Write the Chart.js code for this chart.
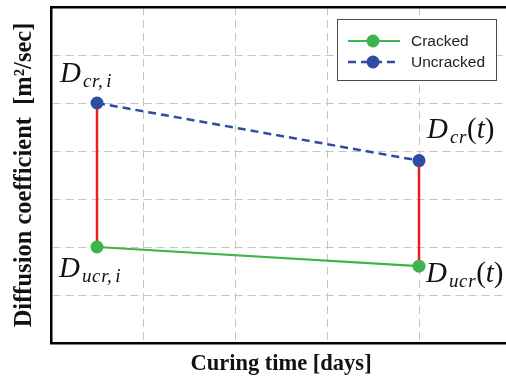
<!DOCTYPE html>
<html>
<head>
<meta charset="utf-8">
<script src="https://cdn.jsdelivr.net/npm/chart.js@4.4.1/dist/chart.umd.min.js"></script>
<style>
  html, body { margin: 0; padding: 0; background: #fff; overflow: hidden; }
  canvas { display: block; }
</style>
</head>
<body>
<canvas id="chart" width="520" height="381"></canvas>
<script>
// two measurement times and the diffusion coefficient at each of them
var curingTime = [0.5, 4]
var crackedValues = [2, 1.6]
var uncrackedValues = [5, 3.8]
var seriesNames = ["Cracked", "Uncracked"]

// symbol, subscript, argument for each point
var crackedLabels = [["D", "ucr,i", ""], ["D", "ucr", "t"]]
var uncrackedLabels = [["D", "cr,i", ""], ["D", "cr", "t"]]

var xRange = [0, 5]
var yRange = [0, 7]

var green = "#3eb54a"
var blue = "#2f4c9f"
var red = "#e8211d"
var serif = "'Liberation Serif', 'Times New Roman', serif"

function points(xs, ys) {
  return xs.map(function(x, i) { return { x: x, y: ys[i] } })
}

// where each math label sits relative to its point (dx, baseline dy)
var labelOffsets = {
  Cracked: [[-38, 30], [7, 16]],
  Uncracked: [[-37, -21], [8, -23]]
}

// italic symbol with subscript and optional (argument), TeX style
function drawMath(ctx, x, y, parts) {
  ctx.fillStyle = "#111"
  ctx.textBaseline = "alphabetic"
  ctx.textAlign = "left"
  ctx.font = "italic 29px " + serif
  ctx.fillText(parts[0], x, y)
  x += 23
  ctx.font = "italic 19px " + serif
  ctx.letterSpacing = "0.6px"
  parts[1].split(",").forEach(function(piece, k, all) {
    var s = k < all.length - 1 ? piece + "," : piece
    ctx.fillText(s, x, y + 5)
    x += ctx.measureText(s).width + (k < all.length - 1 ? 3 : 0)
  })
  ctx.letterSpacing = "0px"
  if (parts[2]) {
    ctx.font = "29px " + serif
    ctx.fillText("(", x, y)
    x += ctx.measureText("(").width
    ctx.font = "italic 29px " + serif
    ctx.fillText(parts[2], x, y)
    x += ctx.measureText(parts[2]).width
    ctx.font = "29px " + serif
    ctx.fillText(")", x, y)
  }
}

var mathLabels = {
  id: "mathLabels",
  afterDatasetsDraw: function(chart) {
    var ctx = chart.ctx
    ctx.save()
    chart.data.datasets.forEach(function(ds, i) {
      if (!ds.mathLabels) return
      var meta = chart.getDatasetMeta(i)
      var offs = labelOffsets[ds.label]
      meta.data.forEach(function(pt, j) {
        drawMath(ctx, pt.x + offs[j][0], pt.y + offs[j][1], ds.mathLabels[j])
      })
    })
    ctx.restore()
  }
}

// boxed legend with line + marker samples, in the upper right of the plot
var boxLegend = {
  id: "boxLegend",
  afterDraw: function(chart) {
    var ctx = chart.ctx
    var shown = chart.data.datasets.filter(function(ds) { return seriesNames.indexOf(ds.label) >= 0 })
    var bx = 337, by = 19, bw = 159, bh = 61
    ctx.save()
    ctx.fillStyle = "#fff"
    ctx.fillRect(bx, by, bw, bh)
    ctx.strokeStyle = "#4a4a4a"
    ctx.lineWidth = 1
    ctx.strokeRect(bx + 0.5, by + 0.5, bw, bh)
    shown.forEach(function(ds, i) {
      var y = by + 22 + i * 21
      ctx.strokeStyle = ds.borderColor
      ctx.lineWidth = ds.borderWidth
      ctx.setLineDash(ds.borderDash || [])
      ctx.beginPath()
      ctx.moveTo(bx + 11, y)
      ctx.lineTo(bx + 63, y)
      ctx.stroke()
      ctx.setLineDash([])
      ctx.fillStyle = ds.pointBackgroundColor
      ctx.beginPath()
      ctx.arc(bx + 36, y, 6.5, 0, Math.PI * 2)
      ctx.fill()
      ctx.fillStyle = "#222"
      ctx.font = "15.5px 'Liberation Sans', Arial, sans-serif"
      ctx.textBaseline = "middle"
      ctx.fillText(ds.label, bx + 74, y + 1)
    })
    ctx.restore()
  }
}

new Chart(document.getElementById("chart"), {
  type: "line",
  data: {
    datasets: [{
      label: seriesNames[0],
      data: points(curingTime, crackedValues),
      mathLabels: crackedLabels,
      borderColor: green,
      backgroundColor: green,
      pointBackgroundColor: green,
      borderWidth: 2.2,
      pointRadius: 6.5,
      pointBorderWidth: 0,
      order: 0
    }, {
      label: seriesNames[1],
      data: points(curingTime, uncrackedValues),
      mathLabels: uncrackedLabels,
      borderColor: blue,
      backgroundColor: blue,
      pointBackgroundColor: blue,
      borderWidth: 2.5,
      borderDash: [8, 5],
      pointRadius: 6.5,
      pointBorderWidth: 0,
      order: 0
    }, {
      label: "gap-start",
      data: [{ x: curingTime[0], y: crackedValues[0] }, { x: curingTime[0], y: uncrackedValues[0] }],
      borderColor: red,
      borderWidth: 2.5,
      pointRadius: 0,
      order: 2
    }, {
      label: "gap-end",
      data: [{ x: curingTime[1], y: crackedValues[1] }, { x: curingTime[1], y: uncrackedValues[1] }],
      borderColor: red,
      borderWidth: 2.5,
      pointRadius: 0,
      order: 2
    }]
  },
  options: {
    responsive: false,
    animation: false,
    devicePixelRatio: 1,
    layout: { padding: { left: 0, right: 9, top: 0, bottom: 0 } },
    plugins: {
      legend: { display: false },
      tooltip: { enabled: false }
    },
    scales: {
      x: {
        type: "linear",
        min: xRange[0],
        max: xRange[1],
        ticks: { display: false, stepSize: 1 },
        grid: { color: "#c4c4c4", lineWidth: 1, drawTicks: false },
        border: { color: "#000", width: 2.5, dash: [8, 5] },
        title: {
          display: true,
          text: "Curing time [days]",
          color: "#111",
          font: { family: serif, size: 22.5, weight: "bold" },
          padding: { top: 0, bottom: 3 }
        },
        afterFit: function(scale) { scale.height = 38 }
      },
      xTop: {
        type: "linear",
        position: "top",
        min: xRange[0],
        max: xRange[1],
        ticks: { display: false },
        grid: { display: false, drawTicks: false },
        border: { color: "#000", width: 2.5 },
        afterFit: function(scale) { scale.height = 7 }
      },
      y: {
        min: yRange[0],
        max: yRange[1],
        ticks: { display: false, stepSize: 1 },
        grid: { color: "#c4c4c4", lineWidth: 1, drawTicks: false },
        border: { color: "#000", width: 2.5, dash: [8, 5] },
        title: {
          display: true,
          text: "Diffusion coefficient  [m\u00b2/sec]",
          color: "#111",
          font: { family: serif, size: 24.5, weight: "bold" },
          padding: { top: 10, bottom: 0 }
        },
        afterFit: function(scale) { scale.width = 51 }
      }
    }
  },
  plugins: [mathLabels, boxLegend]
})
</script>
</body>
</html>
